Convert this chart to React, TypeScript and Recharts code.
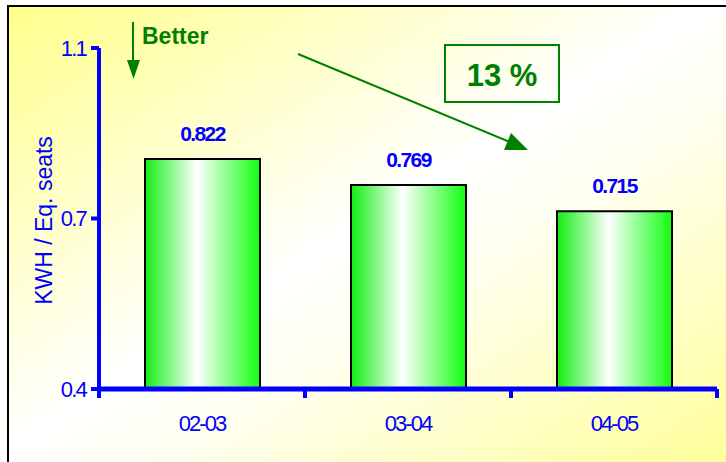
import { BarChart, Bar, XAxis, YAxis, LabelList } from 'recharts';

const seasons = ['02-03', '03-04', '04-05'];
const kwhPerSeat = [0.822, 0.769, 0.715];
const yTicks = [0.35, 0.7, 1.05];

const FONT = '"Liberation Sans", Arial, Helvetica, sans-serif';
const BLUE = '#0000ff';
const GREEN = '#008000';

const W = 726;
const H = 462;
const MARGIN = { top: 48, right: 9, left: 0, bottom: 33 };
const Y_AXIS_W = 99;
const PLOT_W = W - MARGIN.left - MARGIN.right - Y_AXIS_W;
const BAND = PLOT_W / seasons.length;

const data = seasons.map((s, i) => ({ season: s, value: kwhPerSeat[i] }));

// category ticks sit between the bars, like the original
function SeasonTick(props: any) {
  const { x, y, payload, index } = props;
  const last = index === seasons.length - 1;
  return (
    <g>
      <line x1={x - BAND / 2} x2={x - BAND / 2} y1={y} y2={y + 9} stroke={BLUE} strokeWidth={4} />
      {last && <line x1={x + BAND / 2} x2={x + BAND / 2} y1={y} y2={y + 9} stroke={BLUE} strokeWidth={4} />}
      <text
        x={x}
        y={y + 42}
        textAnchor="middle"
        fill={BLUE}
        fontSize={22}
        fontFamily={FONT}
        style={{ letterSpacing: '-2px' }}
      >
        {payload.value}
      </text>
    </g>
  );
}

export default function App() {
  return (
    <div style={{ position: 'fixed', left: 0, top: 0, width: W, height: H, overflow: 'hidden', background: '#fff' }}>
      <div
        style={{
          position: 'absolute',
          left: 7,
          top: 5,
          width: 722,
          height: 460,
          border: '2px solid #000',
          background: 'linear-gradient(to bottom right, #ffff8c 0%, #ffffff 48%, #fffff0 60%, #ffff99 100%)',
        }}
      />
      <div style={{ position: 'absolute', left: 0, top: 0 }}>
        <BarChart width={W} height={H} data={data} margin={MARGIN}>
          <defs>
            <linearGradient id="barGrad" x1="0" y1="0" x2="1" y2="0">
              <stop offset="0%" stopColor="#11ee11" />
              <stop offset="45%" stopColor="#ffffff" />
              <stop offset="100%" stopColor="#11ff11" />
            </linearGradient>
          </defs>
          <XAxis
            dataKey="season"
            height={40}
            axisLine={{ stroke: BLUE, strokeWidth: 5 }}
            tickLine={false}
            tickSize={0}
            tickMargin={0}
            interval={0}
            tick={<SeasonTick />}
          />
          <YAxis
            width={Y_AXIS_W}
            domain={[0.35, 1.05]}
            ticks={yTicks}
            interval={0}
            allowDataOverflow
            axisLine={{ stroke: BLUE, strokeWidth: 4 }}
            tickLine={{ stroke: BLUE, strokeWidth: 4 }}
            tickSize={8}
            tickMargin={5}
            tick={{ fill: BLUE, fontSize: 22, fontFamily: FONT, style: { letterSpacing: '-1.8px' } }}
            tickFormatter={(v: number) => (Math.round(v * 10) / 10).toFixed(1)}
            label={{
              value: 'KWH / Eq. seats',
              angle: -90,
              position: 'center',
              dx: -6,
              dy: 2,
              fill: BLUE,
              fontSize: 23,
              fontFamily: FONT,
            }}
          />
          <Bar dataKey="value" barSize={115} fill="url(#barGrad)" stroke="#000" strokeWidth={2} isAnimationActive={false}>
            <LabelList
              dataKey="value"
              position="top"
              offset={18}
              fill={BLUE}
              fontSize={21}
              fontWeight="bold"
              fontFamily={FONT}
              style={{ letterSpacing: '-1.6px' }}
            />
          </Bar>
        </BarChart>
      </div>
      <svg width={W} height={H} style={{ position: 'absolute', left: 0, top: 0, pointerEvents: 'none' }}>
        <line x1={133} y1={22} x2={133} y2={62} stroke={GREEN} strokeWidth={2} />
        <polygon points="127,60 140,60 133.5,79" fill={GREEN} />
        <text x={142} y={44} fill={GREEN} fontSize={23} fontWeight="bold" fontFamily={FONT}>
          Better
        </text>
        <line x1={298} y1={54} x2={510} y2={142} stroke={GREEN} strokeWidth={2} />
        <polygon points="528,150 511,133 504,150" fill={GREEN} />
        <rect x={445} y={45} width={114} height={57} fill="none" stroke={GREEN} strokeWidth={2} />
        <text x={502} y={86} textAnchor="middle" fill={GREEN} fontSize={31} fontWeight="bold" fontFamily={FONT}>
          13 %
        </text>
      </svg>
    </div>
  );
}
